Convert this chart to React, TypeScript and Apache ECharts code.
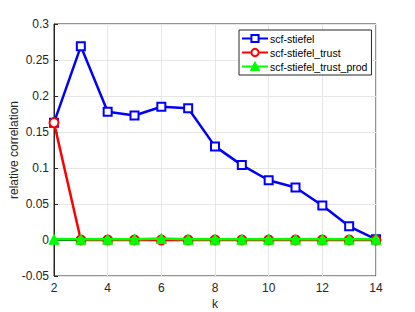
import React, { useEffect, useRef } from "react";
import * as echarts from "echarts";

const kValues = [2, 3, 4, 5, 6, 7, 8, 9, 10, 11, 12, 13, 14];
const stiefel = [0.163, 0.269, 0.178, 0.173, 0.185, 0.183, 0.130, 0.104, 0.083, 0.073, 0.048, 0.019, 0.001];
const stiefelTrust = [0.163, 0.0, 0.0, 0.0, 0.0, 0.0, 0.0, 0.0, 0.0, 0.0, 0.0, 0.0, 0.0];
const stiefelTrustProd = [0.001, 0.001, 0.001, 0.001, 0.002, 0.001, 0.001, 0.001, 0.001, 0.001, 0.001, 0.001, 0.001];
const seriesNames = ["scf-stiefel", "scf-stiefel_trust", "scf-stiefel_trust_prod"];

const FONT = "Liberation Sans, Arial, sans-serif";

export default function App() {
  const ref = useRef<HTMLDivElement>(null);
  useEffect(() => {
    if (!ref.current) return;
    const chart = echarts.init(ref.current, null, { renderer: "svg" });
    const mk = (vals: number[]) => kValues.map((k, i) => [k, vals[i]]);
    chart.setOption({
      animation: false,
      backgroundColor: "#ffffff",
      textStyle: { fontFamily: FONT },
      grid: {
        left: 54,
        right: 39,
        top: 24,
        bottom: 36,
        outerBoundsMode: "none",
        containLabel: false,
        show: true,
        borderColor: "#262626",
        borderWidth: 1,
        backgroundColor: "#ffffff",
      },
      legend: {
        orient: "vertical",
        left: 239,
        top: 30,
        itemGap: 3,
        itemWidth: 26,
        itemHeight: 9,
        padding: [3, 4, 3, 2],
        borderColor: "#262626",
        borderWidth: 1,
        backgroundColor: "#ffffff",
        textStyle: { fontSize: 10.5, color: "#000", fontFamily: FONT, padding: [0, 0, 0, -3] },
        data: seriesNames,
      },
      xAxis: {
        type: "value",
        min: 2,
        max: 14,
        interval: 2,
        name: "k",
        nameLocation: "middle",
        nameGap: 22,
        nameMoveOverlap: false,
        nameTextStyle: { fontSize: 12, color: "#262626", fontFamily: FONT },
        axisLine: { show: true, lineStyle: { color: "#262626" } },
        axisTick: { show: true, inside: true, length: 4, lineStyle: { color: "#262626" } },
        axisLabel: { fontSize: 12, color: "#262626", margin: 6, fontFamily: FONT },
        splitLine: { show: true, lineStyle: { color: "#e6e6e6", width: 1 } },
      },
      yAxis: {
        type: "value",
        min: -0.05,
        max: 0.3,
        interval: 0.05,
        name: "relative correlation",
        nameLocation: "middle",
        nameGap: 34,
        nameMoveOverlap: false,
        nameTextStyle: { fontSize: 12, color: "#262626", fontFamily: FONT },
        axisLine: { show: true, lineStyle: { color: "#262626" } },
        axisTick: { show: true, inside: true, length: 4, lineStyle: { color: "#262626" } },
        axisLabel: {
          fontSize: 12,
          color: "#262626",
          margin: 5,
          fontFamily: FONT,
          formatter: (v: number) => {
            const r = Math.round(v * 100) / 100;
            return String(r);
          },
        },
        splitLine: { show: true, lineStyle: { color: "#e6e6e6", width: 1 } },
      },
      series: [
        {
          name: seriesNames[0],
          type: "line",
          data: mk(stiefel),
          symbol: "emptyRect",
          symbolSize: 8,
          lineStyle: { color: "#0000ff", width: 2.5 },
          itemStyle: { color: "#0000ff", borderColor: "#0000ff", borderWidth: 2 },
          z: 2,
        },
        {
          name: seriesNames[1],
          type: "line",
          data: mk(stiefelTrust),
          symbol: "emptyCircle",
          symbolSize: 9,
          lineStyle: { color: "#ff0000", width: 2.5 },
          itemStyle: { color: "#ff0000", borderColor: "#ff0000", borderWidth: 2.5 },
          z: 3,
        },
        {
          name: seriesNames[2],
          type: "line",
          data: mk(stiefelTrustProd),
          symbol: "triangle",
          symbolSize: 10,
          lineStyle: { color: "#00ff00", width: 2.5 },
          itemStyle: { color: "#00ff00", borderColor: "#00ff00", borderWidth: 1 },
          z: 4,
        },
      ],
    });
    return () => chart.dispose();
  }, []);
  return <div ref={ref} style={{ width: 415, height: 312, position: "absolute", left: 0, top: 0 }} />;
}
